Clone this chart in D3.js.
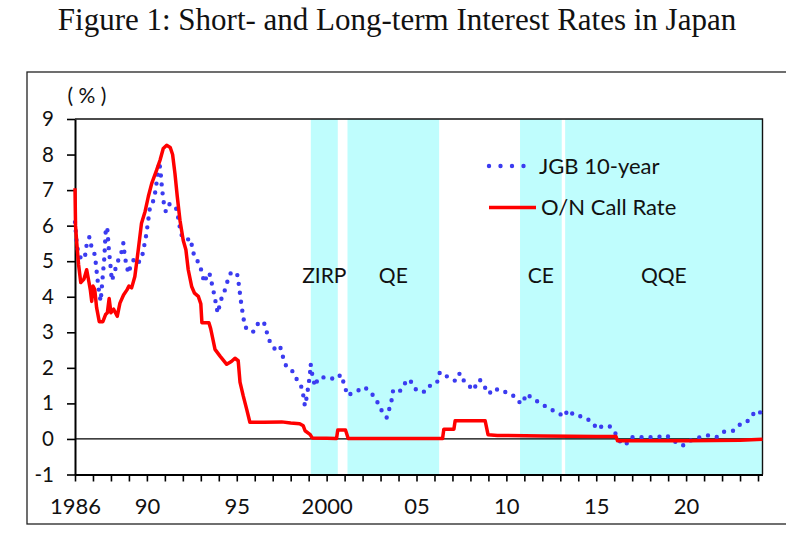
<!DOCTYPE html>
<html>
<head>
<meta charset="utf-8">
<script src="https://cdn.jsdelivr.net/npm/d3@7"></script>
<style>
    body { margin: 0; background: #fff; }
    svg { display: block; }
    .axis text { font-family: Lato, 'Open Sans', sans-serif; fill: #111; }
</style>
</head>
<body>
<svg id="chart" width="786" height="534"></svg>
<script>
// O/N call rate (monthly readings, decimal year)
const callYears = [
    1986.00, 1986.03, 1986.10, 1986.20, 1986.32, 1986.50, 1986.65, 1986.78, 1986.85, 1986.93,
    1987.00, 1987.10, 1987.20, 1987.35, 1987.55, 1987.70, 1987.80, 1987.90, 1988.00, 1988.15,
    1988.35, 1988.50, 1988.70, 1988.90, 1989.00, 1989.15, 1989.33, 1989.52, 1989.70, 1989.90,
    1990.08, 1990.27, 1990.54, 1990.73, 1990.91, 1991.10, 1991.30, 1991.43, 1991.56, 1991.69,
    1991.84, 1992.02, 1992.17, 1992.30, 1992.49, 1992.65, 1992.86, 1993.00, 1993.06, 1993.45,
    1993.55, 1993.79, 1994.07, 1994.44, 1994.70, 1994.90, 1995.08, 1995.18, 1995.36, 1995.55,
    1995.73, 1996.50, 1997.50, 1998.00, 1998.50, 1998.70, 1998.80, 1999.07, 1999.20, 2000.00,
    2000.55, 2000.62, 2001.05, 2001.20, 2006.45, 2006.52, 2007.08, 2007.15, 2008.82, 2008.98,
    2009.50, 2012.00, 2015.00, 2016.10, 2016.18, 2020.00, 2023.00, 2024.25
];
const callRates = [
    7.05, 6.00, 5.50, 4.90, 4.40, 4.50, 4.76, 4.40, 4.20, 3.87,
    4.30, 4.20, 3.70, 3.30, 3.30, 3.50, 3.55, 3.95, 3.55, 3.65,
    3.45, 3.82, 4.05, 4.20, 4.30, 4.25, 4.57, 5.32, 6.07, 6.40,
    6.82, 7.19, 7.56, 7.84, 8.17, 8.26, 8.20, 8.00, 7.47, 6.82,
    6.15, 5.59, 5.32, 4.76, 4.29, 4.10, 4.01, 3.80, 3.27, 3.27,
    3.10, 2.52, 2.33, 2.10, 2.18, 2.27, 2.20, 1.60, 1.21, 0.84,
    0.47, 0.47, 0.48, 0.45, 0.43, 0.37, 0.23, 0.13, 0.03, 0.02,
    0.01, 0.25, 0.25, 0.01, 0.01, 0.27, 0.27, 0.51, 0.51, 0.12,
    0.10, 0.08, 0.07, 0.07, -0.05, -0.05, -0.04, -0.01
];

// JGB 10-year yield
const jgbYears = [
    1986.00, 1986.08, 1986.18, 1986.37, 1986.55, 1986.62, 1986.80, 1986.92, 1987.11, 1987.24,
    1987.35, 1987.43, 1987.54, 1987.63, 1987.72, 1987.80, 1987.88, 1987.97, 1988.05, 1988.20,
    1988.35, 1988.50, 1988.62, 1988.69, 1988.78, 1988.97, 1989.15, 1989.35, 1989.55, 1989.70,
    1989.82, 1989.95, 1990.05, 1990.15, 1990.30, 1990.45, 1990.58, 1990.69, 1990.77, 1990.85,
    1990.95, 1991.05, 1991.20, 1991.45, 1991.62, 1991.75, 1991.88, 1992.00, 1992.21, 1992.43,
    1992.54, 1992.67, 1992.91, 1993.05, 1993.19, 1993.35, 1993.47, 1993.60, 1993.75, 1993.94,
    1994.12, 1994.34, 1994.55, 1994.70, 1994.85, 1995.05, 1995.15, 1995.25, 1995.36, 1995.46,
    1995.65, 1995.88, 1996.05, 1996.20, 1996.50, 1996.66, 1996.84, 1997.12, 1997.40, 1997.55,
    1997.74, 1998.05, 1998.29, 1998.51, 1998.65, 1998.79, 1998.90, 1998.98, 1999.07, 1999.11,
    1999.20, 1999.35, 1999.53, 1999.76, 2000.09, 2000.46, 2000.80, 2001.00, 2001.16, 2001.35,
    2001.67, 2002.09, 2002.45, 2002.78, 2003.02, 2003.34, 2003.45, 2003.61, 2003.70, 2004.02,
    2004.26, 2004.45, 2004.67, 2004.95, 2005.28, 2005.60, 2005.80, 2006.15, 2006.30, 2006.62,
    2006.86, 2007.17, 2007.41, 2007.60, 2007.87, 2008.15, 2008.35, 2008.52, 2008.76, 2009.02,
    2009.36, 2009.69, 2010.04, 2010.43, 2010.65, 2010.88, 2011.12, 2011.45, 2011.95, 2012.38,
    2012.88, 2013.21, 2013.43, 2013.81, 2014.27, 2014.77, 2015.07, 2015.35, 2015.76, 2016.09,
    2016.35, 2016.63, 2016.92, 2017.42, 2017.90, 2018.40, 2018.90, 2019.37, 2019.80, 2020.20,
    2020.66, 2021.22, 2021.69, 2022.10, 2022.61, 2022.99, 2023.32, 2023.58, 2023.88, 2024.19
];
const jgbYields = [
    6.10, 5.60, 5.22, 5.05, 5.10, 5.40, 5.68, 5.40, 5.17, 4.54,
    4.10, 3.87, 4.56, 5.08, 5.96, 5.90, 5.35, 4.90, 4.45, 4.70,
    4.95, 5.15, 5.30, 5.51, 5.10, 4.66, 4.95, 5.10, 4.98, 5.05,
    5.35, 5.70, 6.05, 6.45, 6.60, 6.90, 7.35, 7.80, 7.45, 7.00,
    6.60, 6.40, 6.60, 6.60, 6.50, 6.20, 5.80, 5.65, 5.60, 5.64,
    5.33, 5.08, 4.95, 4.70, 4.40, 4.60, 4.68, 4.40, 4.05, 3.54,
    3.91, 4.19, 4.55, 4.70, 4.70, 4.60, 4.20, 3.80, 3.44, 3.14,
    3.10, 3.00, 3.10, 3.27, 3.30, 3.02, 2.74, 2.53, 2.62, 2.34,
    2.06, 1.95, 1.71, 1.57, 1.39, 0.93, 1.20, 1.48, 1.81, 2.11,
    1.81, 1.48, 1.71, 1.73, 1.74, 1.67, 1.81, 1.50, 1.22, 1.27,
    1.34, 1.46, 1.32, 1.08, 0.83, 0.60, 0.78, 1.08, 1.37, 1.32,
    1.45, 1.67, 1.63, 1.40, 1.31, 1.36, 1.54, 1.60, 1.88, 1.78,
    1.71, 1.63, 1.85, 1.66, 1.53, 1.37, 1.55, 1.67, 1.49, 1.27,
    1.43, 1.32, 1.32, 1.20, 1.06, 0.99, 1.27, 1.14, 0.99, 0.85,
    0.74, 0.62, 0.82, 0.65, 0.63, 0.48, 0.27, 0.37, 0.35, 0.14,
    -0.09, -0.17, 0.05, 0.05, 0.05, 0.05, 0.10, -0.07, -0.19, -0.05,
    0.03, 0.10, 0.05, 0.20, 0.23, 0.40, 0.45, 0.59, 0.80, 0.73
];

// policy regimes (shaded)
const regimeNames = ['ZIRP', 'QE', 'CE', 'QQE'];
const regimeStarts = [1999.12, 2001.16, 2010.76, 2013.27];
const regimeEnds = [2000.62, 2006.26, 2013.08, 2024.25];

const yTicks = [-1, 0, 1, 2, 3, 4, 5, 6, 7, 8, 9];
const xLabelYears = [1986, 1990, 1995, 2000, 2005, 2010, 2015, 2020];
const xLabelText = ['1986', '90', '95', '2000', '05', '10', '15', '20'];

const svg = d3.select('#chart');
const plot = { left: 75, right: 762.5, top: 119, bottom: 474.5 };

const x = d3.scaleLinear()
    .domain([1986, 2024.25])
    .range([plot.left, plot.right]);

const y = d3.scaleLinear()
    .domain([-1, 9])
    .range([plot.bottom, plot.top]);

// title and outer frame
svg.append('text')
    .attr('x', 397)
    .attr('y', 30)
    .attr('text-anchor', 'middle')
    .style('font-family', "'Liberation Serif', serif")
    .style('font-size', '31px')
    .attr('fill', '#111')
    .text('Figure 1: Short- and Long-term Interest Rates in Japan');

svg.append('rect')
    .attr('x', 27)
    .attr('y', 72)
    .attr('width', 800)
    .attr('height', 452)
    .attr('fill', 'none')
    .attr('stroke', '#222')
    .attr('stroke-width', 1.3);

// shaded bands
svg.append('g')
    .selectAll('rect')
    .data(regimeNames)
    .enter().append('rect')
    .attr('x', (d, i) => x(regimeStarts[i]))
    .attr('y', plot.top)
    .attr('width', (d, i) => x(regimeEnds[i]) - x(regimeStarts[i]))
    .attr('height', plot.bottom - plot.top)
    .attr('fill', '#bffdfd');

svg.append('g')
    .selectAll('text')
    .data(regimeNames)
    .enter().append('text')
    .attr('x', (d, i) => x((regimeStarts[i] + regimeEnds[i]) / 2))
    .attr('y', 283)
    .attr('text-anchor', 'middle')
    .style('font-family', "Lato, 'Open Sans', sans-serif")
    .style('font-size', '21px')
    .attr('fill', '#111')
    .text(d => d);

// zero line
svg.append('line')
    .attr('x1', plot.left)
    .attr('x2', plot.right)
    .attr('y1', y(0))
    .attr('y2', y(0))
    .attr('stroke', '#000')
    .attr('stroke-width', 1.3);

// axes
const yAxis = svg.append('g')
    .attr('class', 'axis')
    .attr('transform', `translate(${plot.left}, 0)`)
    .call(d3.axisLeft(y)
        .tickValues(yTicks)
        .tickSize(8)
        .tickSizeOuter(0)
        .tickPadding(13)
        .tickFormat(d => d < 0 ? '-' + Math.abs(d) : String(d)));
yAxis.selectAll('text').style('font-size', '20.5px');

const xAxis = svg.append('g')
    .attr('class', 'axis')
    .attr('transform', `translate(0, ${plot.bottom})`)
    .call(d3.axisBottom(x)
        .tickValues(d3.range(1986, 2025))
        .tickSize(7)
        .tickSizeOuter(0)
        .tickPadding(17)
        .tickFormat(d => {
            const i = xLabelYears.indexOf(d);
            return i >= 0 ? xLabelText[i] : '';
        }));
xAxis.selectAll('text').style('font-size', '22px');

svg.selectAll('.axis .domain').attr('stroke', '#000').attr('stroke-width', 2);
svg.selectAll('.axis .tick line').attr('stroke', '#000').attr('stroke-width', 1.6);

// plot frame top/right
svg.append('path')
    .attr('d', `M${plot.left},${plot.top}H${plot.right}V${plot.bottom}`)
    .attr('fill', 'none')
    .attr('stroke', '#111')
    .attr('stroke-width', 1.4);

svg.append('text')
    .attr('x', 87)
    .attr('y', 103)
    .attr('text-anchor', 'middle')
    .style('font-family', "Lato, 'Open Sans', sans-serif")
    .style('font-size', '21px')
    .attr('fill', '#111')
    .text('( % )');

// series
const jgbLine = d3.line()
    .x((d, i) => x(jgbYears[i]))
    .y(d => y(d));

const callLine = d3.line()
    .x((d, i) => x(callYears[i]))
    .y(d => y(d));

svg.append('path')
    .datum(jgbYields)
    .attr('fill', 'none')
    .attr('stroke', '#3b3bf0')
    .attr('stroke-width', 4.4)
    .attr('stroke-linecap', 'round')
    .attr('stroke-dasharray', '0 9')
    .attr('d', jgbLine);

svg.append('path')
    .datum(callRates)
    .attr('fill', 'none')
    .attr('stroke', '#ff0000')
    .attr('stroke-width', 3.5)
    .attr('stroke-linejoin', 'round')
    .attr('d', callLine);

// legend
const legend = svg.append('g')
    .style('font-family', "Lato, 'Open Sans', sans-serif")
    .style('font-size', '22px');

legend.append('line')
    .attr('x1', 489).attr('x2', 535)
    .attr('y1', 166).attr('y2', 166)
    .attr('stroke', '#3b3bf0')
    .attr('stroke-width', 4.4)
    .attr('stroke-linecap', 'round')
    .attr('stroke-dasharray', '0 11.5');

legend.append('text')
    .attr('x', 539)
    .attr('y', 174)
    .attr('fill', '#111')
    .text('JGB 10-year');

legend.append('line')
    .attr('x1', 489).attr('x2', 536)
    .attr('y1', 207.5).attr('y2', 207.5)
    .attr('stroke', '#ff0000')
    .attr('stroke-width', 3.5);

legend.append('text')
    .attr('x', 541)
    .attr('y', 215)
    .attr('fill', '#111')
    .text('O/N Call Rate');
</script>
</body>
</html>
